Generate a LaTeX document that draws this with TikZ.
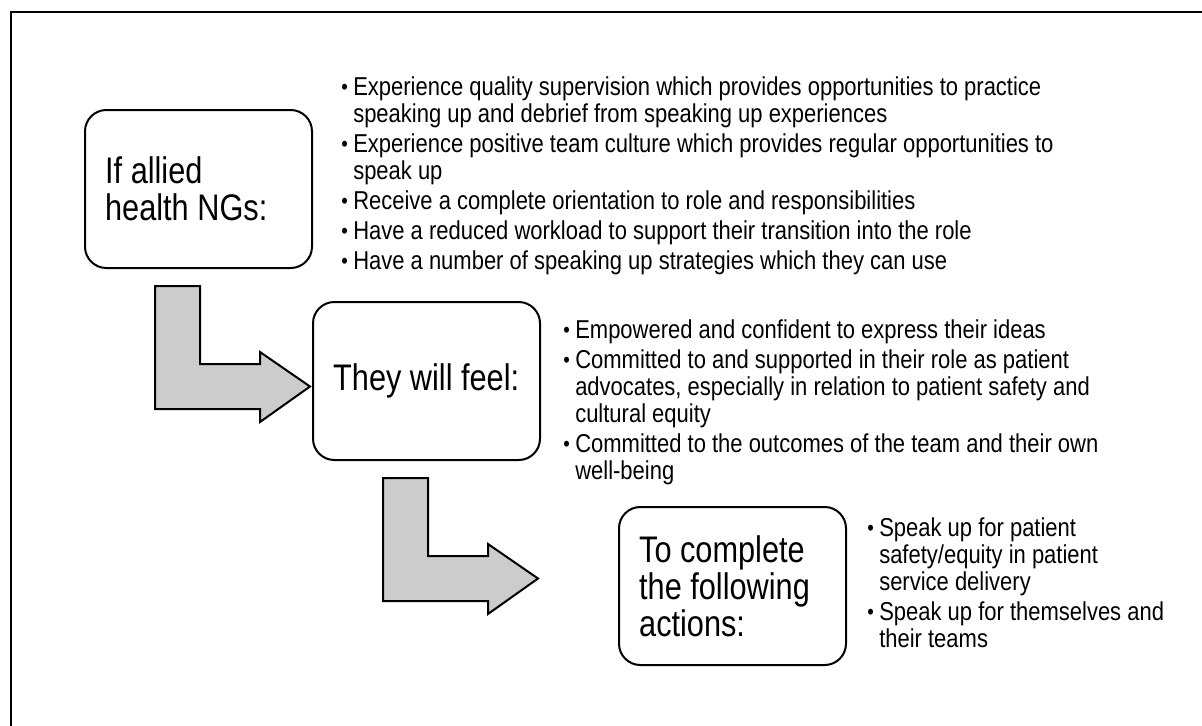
\documentclass[tikz,border=0pt]{standalone}
\usepackage{fontspec}
\setmainfont{Liberation Sans}[FakeStretch=0.83]
\newfontfamily\pointfont{Liberation Sans}[FakeStretch=0.85]
\usepackage{tikz}

% fonts for the stage boxes and the point lists
\newcommand{\stagefont}{\fontsize{27.75pt}{27.75pt}\selectfont}
\newcommand{\listfont}{\pointfont\fontsize{19.4pt}{20.25pt}\selectfont}
% bullet and hanging indent for the point lists
\newcommand{\bl}{\makebox[9pt][l]{\raisebox{0.4pt}{\scalebox{0.85}{\textbullet}}}}
\newcommand{\ind}{\hspace*{9pt}}

\begin{document}
\begin{tikzpicture}[x=0.75pt, y=-0.75pt]
    % Define styles
    \tikzstyle{stage} = [rectangle, rounded corners=16pt, draw=black, line width=1.5pt, fill=white, minimum width=170.25pt, minimum height=118.5pt, text width=146pt, inner xsep=12.125pt, align=flush left, font=\stagefont]
    \tikzstyle{points} = [anchor=north west, inner sep=0pt, align=left, font=\listfont]
    \tikzstyle{bentarrow} = [draw=black, line width=1.5pt, fill=black!20, line join=miter]

    \useasboundingbox (0,0) rectangle (1202,725);
    \clip (0,0) rectangle (1202,725);

    % Outer frame
    \draw[line width=1.8pt] (11,760) -- (11,12) -- (1240,12);

    % Stage boxes
    \node (ifnode) [stage] at (198.5,189) {\hspace*{3pt}If allied\\\hspace*{3pt}health NGs:};
    \node (feel) [stage] at (426.5,381) {\hspace*{3pt}They will feel:};
    \node (actions) [stage] at (732.5,586) {\hspace*{3pt}To complete\\\hspace*{3pt}the following\\\hspace*{3pt}actions:};

    % Point lists beside each box
    \node (iflist) [points] at (341,76) {%
        \bl Experience quality supervision which provides opportunities to practice\\
        \ind speaking up and debrief from speaking up experiences\\[2.25pt]
        \bl Experience positive team culture which provides regular opportunities to\\
        \ind speak up\\[2.25pt]
        \bl Receive a complete orientation to role and responsibilities\\[2.25pt]
        \bl Have a reduced workload to support their transition into the role\\[2.25pt]
        \bl Have a number of speaking up strategies which they can use};
    \node (feellist) [points] at (563,319) {%
        \bl Empowered and confident to express their ideas\\[2.25pt]
        \bl Committed to and supported in their role as patient\\
        \ind advocates, especially in relation to patient safety and\\
        \ind cultural equity\\[2.25pt]
        \bl Committed to the outcomes of the team and their own\\
        \ind well-being};
    \node (actlist) [points] at (867,517) {%
        \bl Speak up for patient\\
        \ind safety/equity in patient\\
        \ind service delivery\\[2.25pt]
        \bl Speak up for themselves and\\
        \ind their teams};

    % Bent arrows from one stage to the next
    \draw[bentarrow, shift={(ifnode.south west)}] (71,17) -- (116,17) -- (116,95) -- (176,95) -- (176,83) -- (226,117.5) -- (176,153) -- (176,140) -- (71,140) -- cycle;
    \draw[bentarrow, shift={(feel.south west)}] (71,17) -- (116,17) -- (116,95) -- (176,95) -- (176,83) -- (226,117.5) -- (176,153) -- (176,140) -- (71,140) -- cycle;
\end{tikzpicture}
\end{document}
